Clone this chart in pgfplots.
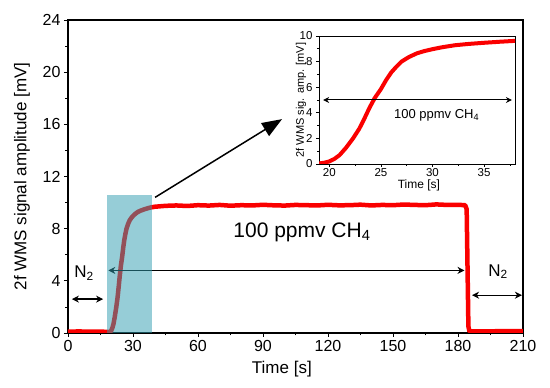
\documentclass[border=0pt]{standalone}
\usepackage{pgfplots}
\pgfplotsset{compat=1.18}
\usepackage{pgfplotstable}
\usepackage{fontspec}
\setmainfont{Liberation Sans}
\usetikzlibrary{arrows.meta}
\definecolor{boxblue}{RGB}{49,157,176}
\definecolor{sigred}{RGB}{250,0,0}

\pgfplotstableread{
t v
0 0.1
5 0.12
10 0.1
15 0.11
18.5 0.08
19 0.04
19.5 0.1
20 0.2
20.5 0.4
21 0.7
21.6 1.25
22.3 2.0
22.9 2.75
23.4 3.55
23.9 4.4
24.4 5.15
25 5.85
25.5 6.55
26 7.15
26.5 7.6
27 8.0
27.7 8.35
28.5 8.65
29.2 8.82
30 8.97
31 9.13
32.2 9.28
33.5 9.38
35 9.47
36.5 9.55
38 9.62
40 9.68
45 9.75
50 9.78
55 9.74
60 9.8
65 9.77
70 9.82
75 9.76
80 9.8
85 9.78
90 9.83
95 9.79
100 9.77
105 9.82
110 9.8
115 9.78
120 9.83
125 9.79
130 9.8
135 9.84
140 9.78
145 9.82
150 9.8
155 9.85
160 9.82
165 9.8
170 9.86
175 9.82
180 9.83
183.3 9.8
184 9.5
184.4 5
184.8 0.5
185.3 0.12
190 0.12
200 0.14
210 0.15
}\sigdata

\begin{document}
\begin{tikzpicture}
\useasboundingbox (-68pt,-55pt) rectangle (482pt,333pt);
\begin{axis}[
  at={(0pt,0pt)}, anchor=south west,
  scale only axis, width=455pt, height=313pt,
  xmin=0, xmax=210, ymin=0, ymax=24,
  xtick={0,30,...,210}, ytick={0,4,...,24},
  minor xtick={15,45,...,195}, minor ytick={2,6,...,22},
  xtick pos=bottom, ytick pos=left,
  tick align=outside,
  major tick length=4pt, minor tick length=2.5pt,
  axis line style={line width=1.1pt},
  every tick/.style={line width=0.8pt, black},
  tick label style={font=\fontsize{16}{18}\selectfont},
  /pgf/number format/assume math mode=true,
  xlabel={Time [s]},
  ylabel={2f WMS signal amplitude [mV]},
  label style={font=\fontsize{17}{19}\selectfont},
  xlabel style={at={([yshift=-36pt]axis description cs:0.47,0)}, anchor=center},
  ylabel style={at={([xshift=-46pt]axis description cs:0,0.5)}, anchor=center},
]
\addplot[sigred, line width=4.5pt, line join=round] table[x=t,y=v] {\sigdata};
\draw[line width=1.2pt, {Stealth[length=7pt,width=7pt]}-{Stealth[length=7pt,width=7pt]}] (axis cs:18.6,4.8) -- (axis cs:183,4.8);
\fill[boxblue, opacity=0.51] (axis cs:17.8,0) rectangle (axis cs:38.9,10.58);
\draw[line width=1.2pt, {Stealth[length=7pt,width=7pt]}-{Stealth[length=7pt,width=7pt]}] (axis cs:1.8,2.6) -- (axis cs:16.2,2.6);
\draw[line width=1.2pt, {Stealth[length=7pt,width=7pt]}-{Stealth[length=7pt,width=7pt]}] (axis cs:186.5,2.9) -- (axis cs:209.5,2.9);
\draw[line width=1.5pt, -{Triangle[length=20pt,width=15pt]}] (axis cs:40.2,10.4) -- (axis cs:98.8,16.4);
\node[font=\fontsize{21}{24}\selectfont] at (axis cs:108,7.74) {100 ppmv CH\textsubscript{4}};
\node[font=\fontsize{17}{19}\selectfont] at (axis cs:7.4,4.6) {N\textsubscript{2}};
\node[font=\fontsize{17}{19}\selectfont] at (axis cs:198.5,4.7) {N\textsubscript{2}};
\end{axis}
\begin{axis}[
  at={(251pt,169pt)}, anchor=south west,
  scale only axis, width=196pt, height=128pt,
  xmin=19, xmax=38, ymin=0, ymax=10,
  xtick={20,25,30,35}, ytick={0,2,...,10},
  minor xtick={22.5,27.5,32.5,37.5}, minor ytick={1,3,...,9},
  xtick pos=bottom, ytick pos=left,
  tick align=outside,
  major tick length=3pt, minor tick length=2pt,
  axis line style={line width=0.9pt},
  every tick/.style={line width=0.6pt, black},
  tick label style={font=\fontsize{11.5}{13}\selectfont},
  xticklabel style={yshift=2pt},
  /pgf/number format/assume math mode=true,
  xlabel={Time [s]},
  ylabel={2f WMS sig. amp. [mV]},
  xlabel style={font=\fontsize{12}{14}\selectfont, at={([yshift=-21pt]axis description cs:0.51,0)}, anchor=center},
  ylabel style={font=\fontsize{11}{13}\selectfont, at={([xshift=-18pt]axis description cs:0,0.5)}, anchor=center},
]
\addplot[sigred, line width=4pt, line join=round] table[x=t,y=v] {\sigdata};
\draw[line width=1pt, {Stealth[length=6pt,width=6pt]}-{Stealth[length=6pt,width=6pt]}] (axis cs:19.4,5) -- (axis cs:37.7,5);
\node[font=\fontsize{13}{15}\selectfont] at (axis cs:30.4,3.8) {100 ppmv CH\textsubscript{4}};
\end{axis}
\end{tikzpicture}
\end{document}
